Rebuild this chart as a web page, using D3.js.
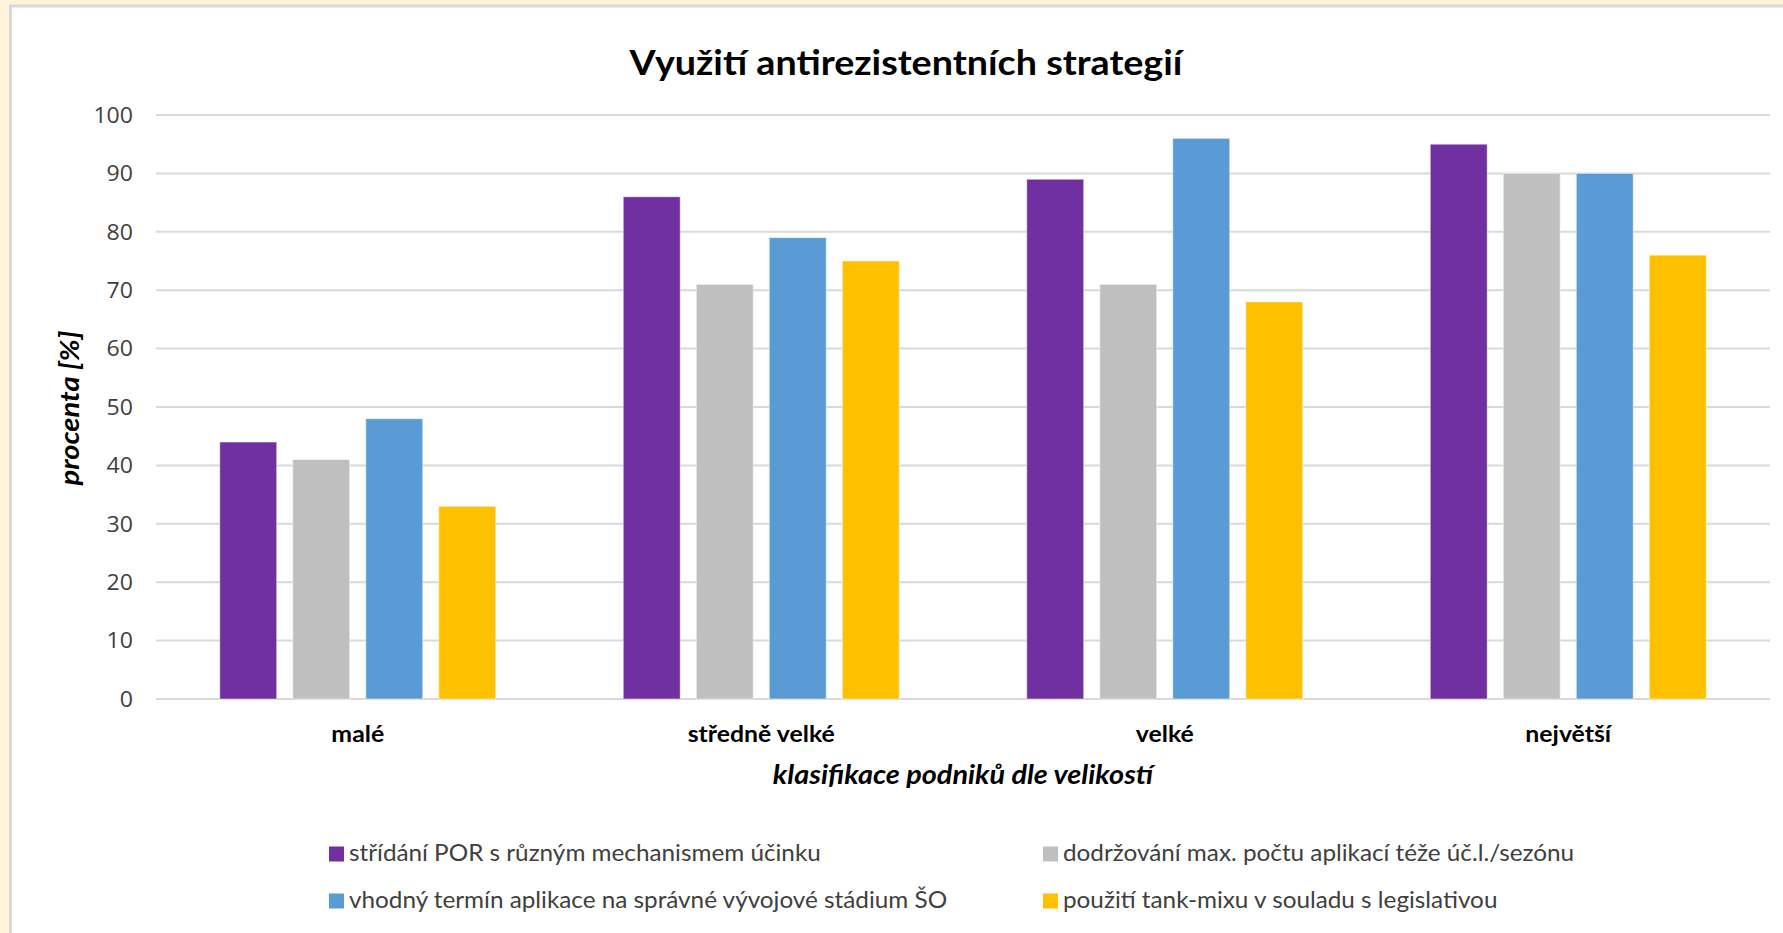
<!DOCTYPE html>
<html>
<head>
<meta charset="utf-8">
<script src="https://cdn.jsdelivr.net/npm/d3@7"></script>
<style>
  body { margin: 0; background: #fff3d9; }
  svg { display: block; }
</style>
</head>
<body>
<div class="chart-area"></div>
<script>
let categories = ["malé", "středně velké", "velké", "největší"];
let seriesNames = [
    "střídání POR s různým mechanismem účinku",
    "dodržování max. počtu aplikací téže úč.l./sezónu",
    "vhodný termín aplikace na správné vývojové stádium ŠO",
    "použití tank-mixu v souladu s legislativou"
];
let seriesColors = ["#7030a0", "#bfbfbf", "#5b9bd5", "#ffc000"];
let strideni = [44, 86, 89, 95];
let dodrzovani = [41, 71, 71, 90];
let termin = [48, 79, 96, 90];
let tankMix = [33, 75, 68, 76];
let yTicks = [0, 10, 20, 30, 40, 50, 60, 70, 80, 90, 100];

let seriesValues = [strideni, dodrzovani, termin, tankMix];

let W = 1783, H = 933;
let plotLeft = 156, plotRight = 1770, plotTop = 115, plotBottom = 699;

let svg = d3.select(".chart-area").append("svg")
    .attr("width", W)
    .attr("height", H)

// cream frame + white panel
svg.append("rect")
    .attr("x", 0).attr("y", 0)
    .attr("width", W).attr("height", H)
    .attr("fill", "#fff3d9")
svg.append("rect")
    .attr("x", 10.5).attr("y", 6)
    .attr("width", W).attr("height", H)
    .attr("fill", "#ffffff")
    .attr("stroke", "#d9d9d9")
    .attr("stroke-width", 3)

let x0 = d3.scaleBand()
    .domain(categories)
    .range([plotLeft, plotRight])
    .paddingInner(0.316)
    .paddingOuter(0.158)

let x1 = d3.scaleBand()
    .domain(d3.range(seriesNames.length))
    .range([0, x0.bandwidth()])
    .paddingInner(0.22)
    .paddingOuter(0)

let y = d3.scaleLinear()
    .domain([0, 100])
    .range([plotBottom, plotTop])

// the source text is a bit wider than Lato, stretch it sideways
function place(x, yy, sx, rot) {
    return "translate(" + x + "," + yy + ")" + (rot ? " rotate(" + rot + ")" : "") + " scale(" + sx + ",1)";
}

// gridlines
svg.append("g").selectAll("line").data(yTicks).enter().append("line")
    .attr("x1", plotLeft)
    .attr("x2", plotRight)
    .attr("y1", d => y(d))
    .attr("y2", d => y(d))
    .attr("stroke", "#d9d9d9")
    .attr("stroke-width", 2)

// y tick labels
svg.append("g").selectAll("text").data(yTicks).enter().append("text")
    .attr("transform", d => place(133, y(d), 1.05))
    .attr("dy", "0.35em")
    .attr("text-anchor", "end")
    .attr("font-family", "Open Sans")
    .attr("font-size", 22)
    .attr("fill", "#404040")
    .text(d => d)

// bars
let rows = [];
for (let s = 0; s < seriesValues.length; s++) {
    for (let c = 0; c < categories.length; c++) {
        rows.push({s: s, cat: categories[c], v: seriesValues[s][c]});
    }
}

svg.append("g").selectAll("rect").data(rows).enter().append("rect")
    .attr("x", d => x0(d.cat) + x1(d.s))
    .attr("y", d => y(d.v))
    .attr("width", x1.bandwidth())
    .attr("height", d => y(0) - y(d.v))
    .attr("fill", d => seriesColors[d.s])
    .attr("stroke", "#ffffff")
    .attr("stroke-opacity", 0.5)
    .attr("stroke-width", 1)

// category labels
svg.append("g").selectAll("text").data(categories).enter().append("text")
    .attr("transform", d => place(x0(d) + x0.bandwidth() / 2, 742, 1.08))
    .attr("text-anchor", "middle")
    .attr("font-family", "Lato")
    .attr("font-weight", "bold")
    .attr("font-size", 23)
    .attr("fill", "#000")
    .text(d => d)

// title
svg.append("text")
    .attr("transform", place(906, 75, 1.077))
    .attr("text-anchor", "middle")
    .attr("font-family", "Lato")
    .attr("font-weight", "bold")
    .attr("font-size", 35)
    .attr("fill", "#000")
    .text("Využití antirezistentních strategií")

// axis titles
svg.append("text")
    .attr("transform", place((plotLeft + plotRight) / 2, 784, 1.11))
    .attr("text-anchor", "middle")
    .attr("font-family", "Lato")
    .attr("font-weight", "bold")
    .attr("font-style", "italic")
    .attr("font-size", 26)
    .attr("fill", "#000")
    .text("klasifikace podniků dle velikostí")

svg.append("text")
    .attr("transform", place(79, (plotTop + plotBottom) / 2 + 1, 1.12, -90))
    .attr("text-anchor", "middle")
    .attr("font-family", "Lato")
    .attr("font-weight", "bold")
    .attr("font-style", "italic")
    .attr("font-size", 26)
    .attr("fill", "#000")
    .text("procenta [%]")

// legend
let legendPos = [[329, 854], [1043, 854], [329, 901], [1043, 901]];
let legend = svg.append("g").selectAll("g").data(seriesNames).enter().append("g")
    .attr("transform", (d, i) => "translate(" + legendPos[i][0] + "," + legendPos[i][1] + ")")

legend.append("rect")
    .attr("x", 0)
    .attr("y", -7.5)
    .attr("width", 15)
    .attr("height", 15)
    .attr("fill", (d, i) => seriesColors[i])

legend.append("text")
    .attr("transform", place(20, 7, 1.056))
    .attr("font-family", "Lato")
    .attr("font-size", 23)
    .attr("fill", "#404040")
    .text(d => d)
</script>
</body>
</html>
